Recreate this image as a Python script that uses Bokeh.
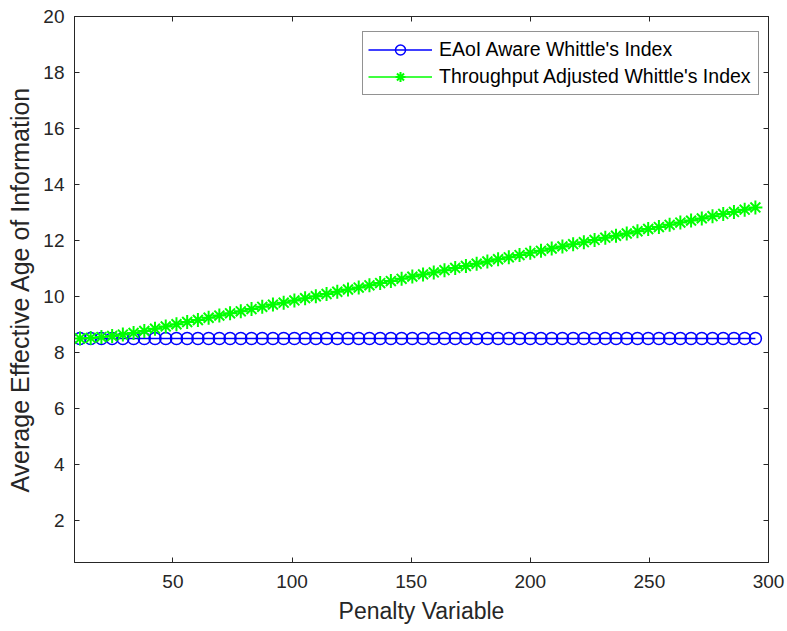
from bokeh.plotting import figure
from bokeh.models import Range1d, LinearAxis, FixedTicker, Legend, LegendItem
from bokeh.embed import file_html
from bokeh.resources import INLINE

# Penalty variable values (x) shared by both series
penalty = [11.0, 15.5, 20.0, 24.5, 29.0, 33.5, 38.0, 42.5, 47.0, 51.5,
           56.0, 60.5, 65.0, 69.5, 74.0, 78.5, 83.0, 87.5, 92.0, 96.5,
           101.0, 105.5, 110.0, 114.5, 119.0, 123.5, 128.0, 132.5, 137.0, 141.5,
           146.0, 150.5, 155.0, 159.5, 164.0, 168.5, 173.0, 177.5, 182.0, 186.5,
           191.0, 195.5, 200.0, 204.5, 209.0, 213.5, 218.0, 222.5, 227.0, 231.5,
           236.0, 240.5, 245.0, 249.5, 254.0, 258.5, 263.0, 267.5, 272.0, 276.5,
           281.0, 285.5, 290.0, 294.5]

# Average effective age of information for each policy
eaoi_aware = [8.5, 8.5, 8.5, 8.5, 8.5, 8.5, 8.5, 8.5, 8.5, 8.5,
              8.5, 8.5, 8.5, 8.5, 8.5, 8.5, 8.5, 8.5, 8.5, 8.5,
              8.5, 8.5, 8.5, 8.5, 8.5, 8.5, 8.5, 8.5, 8.5, 8.5,
              8.5, 8.5, 8.5, 8.5, 8.5, 8.5, 8.5, 8.5, 8.5, 8.5,
              8.5, 8.5, 8.5, 8.5, 8.5, 8.5, 8.5, 8.5, 8.5, 8.5,
              8.5, 8.5, 8.5, 8.5, 8.5, 8.5, 8.5, 8.5, 8.5, 8.5,
              8.5, 8.5, 8.5, 8.5]

throughput_adjusted = [8.50, 8.52, 8.55, 8.59, 8.64, 8.70, 8.77, 8.85, 8.93, 9.01,
                       9.09, 9.16, 9.24, 9.32, 9.40, 9.47, 9.55, 9.63, 9.71, 9.78,
                       9.86, 9.94, 10.01, 10.09, 10.17, 10.25, 10.32, 10.40, 10.48, 10.55,
                       10.63, 10.71, 10.79, 10.86, 10.94, 11.02, 11.09, 11.17, 11.25, 11.33,
                       11.40, 11.48, 11.56, 11.63, 11.71, 11.79, 11.87, 11.94, 12.02, 12.10,
                       12.17, 12.25, 12.33, 12.41, 12.48, 12.56, 12.64, 12.71, 12.79, 12.87,
                       12.95, 13.02, 13.10, 13.18]

x_ticks = [50, 100, 150, 200, 250, 300]
y_ticks = [2, 4, 6, 8, 10, 12, 14, 16, 18, 20]

FONT = "Liberation Sans"
INK = "#262626"

p = figure(width=787, height=631, output_backend="svg", toolbar_location=None,
           x_range=Range1d(8.7, 300), y_range=Range1d(0.5, 20.0),
           min_border_left=74, min_border_right=19, min_border_top=16,
           min_border_bottom=69)
p.background_fill_color = "white"
p.border_fill_color = "white"
p.outline_line_color = INK
p.xgrid.visible = False
p.ygrid.visible = False


def style_axis(ax, ticks, labels=True):
    ax.ticker = FixedTicker(ticks=ticks)
    ax.major_tick_in = 5
    ax.major_tick_out = 0
    ax.minor_tick_line_color = None
    ax.axis_line_color = INK
    ax.major_tick_line_color = INK
    ax.major_label_text_font = FONT
    if labels:
        ax.major_label_text_color = INK
        ax.major_label_text_font_size = "19px"
    else:
        # tick marks only on the mirrored top/right edges
        ax.major_label_text_color = None
        ax.major_label_text_font_size = "1px"
        ax.major_label_standoff = 0


xa = p.xaxis[0]
style_axis(xa, x_ticks)
xa.major_label_standoff = 12
xa.axis_label = "Penalty Variable"
xa.axis_label_text_font = FONT
xa.axis_label_text_font_size = "23px"
xa.axis_label_text_font_style = "normal"
xa.axis_label_text_color = INK
xa.axis_label_standoff = 7

ya = p.yaxis[0]
style_axis(ya, y_ticks)
ya.major_label_standoff = 10
ya.axis_label = "Average Effective Age of Information"
ya.axis_label_text_font = FONT
ya.axis_label_text_font_size = "25px"
ya.axis_label_text_font_style = "normal"
ya.axis_label_text_color = INK
ya.axis_label_standoff = 6

top_axis = LinearAxis()
style_axis(top_axis, x_ticks, labels=False)
p.add_layout(top_axis, "above")

right_axis = LinearAxis()
style_axis(right_axis, y_ticks, labels=False)
p.add_layout(right_axis, "right")

# EAoI-aware Whittle's index: blue line with open circles
l1 = p.line(penalty, eaoi_aware, line_color="#0000ff", line_width=1.3)
s1 = p.scatter(penalty, eaoi_aware, marker="circle", size=12,
               line_color="#0000ff", fill_color=None, line_width=1.5)

# Throughput-adjusted Whittle's index: green line with asterisks
l2 = p.line(penalty, throughput_adjusted, line_color="#00ff00", line_width=1.3)
s2 = p.scatter(penalty, throughput_adjusted, marker="asterisk", size=14,
               line_color="#00ff00", line_width=2)

legend = Legend(items=[
    LegendItem(label="EAoI Aware Whittle's Index", renderers=[l1, s1]),
    LegendItem(label="Throughput Adjusted Whittle's Index", renderers=[l2, s2]),
], location=(288, 467))
legend.label_text_font = FONT
legend.label_text_font_size = "19.5px"
legend.label_text_color = "#000000"
legend.border_line_color = INK
legend.border_line_width = 1
legend.background_fill_color = "white"
legend.padding = 5
legend.spacing = 2
legend.margin = 0
legend.glyph_width = 64
legend.glyph_height = 25
legend.label_height = 25
legend.label_width = 314
legend.label_standoff = 7
p.add_layout(legend)

open("out.html", "w").write(file_html(p, INLINE))
